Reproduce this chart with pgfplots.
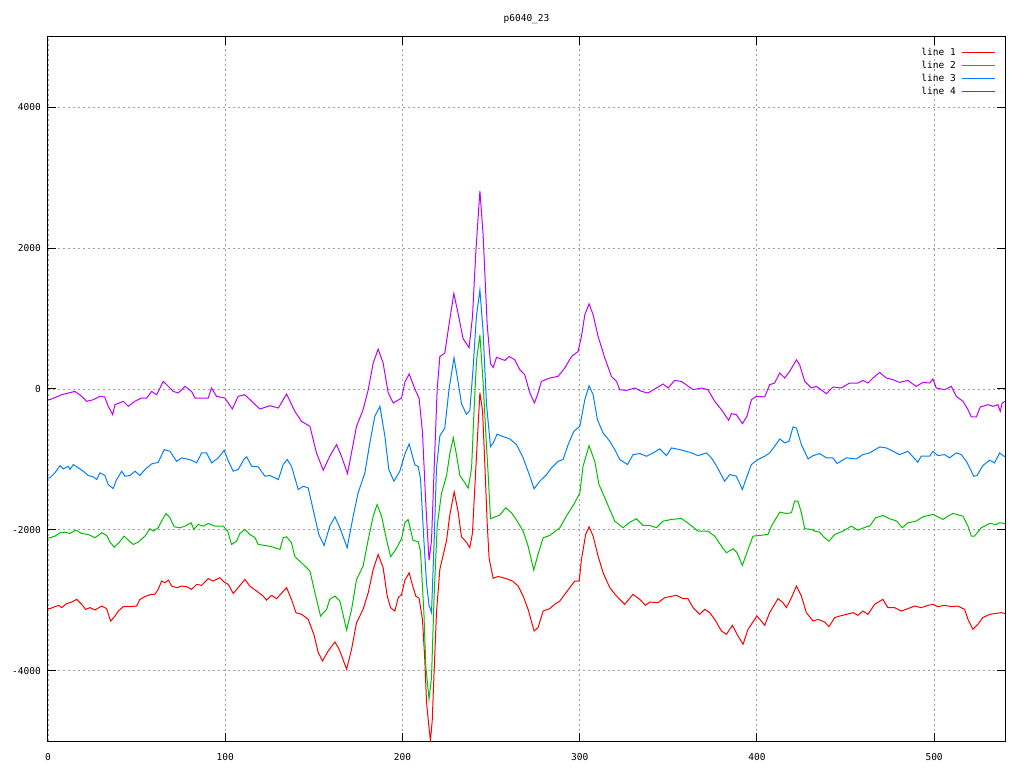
\documentclass[border=0pt]{standalone}
\usepackage{fontspec}
\setmainfont{DejaVu Sans Mono}
\usepackage{pgfplots}
\pgfplotsset{compat=1.18}
\definecolor{c1}{RGB}{255,0,0}
\definecolor{c2}{RGB}{0,192,0}
\definecolor{c3}{RGB}{0,128,255}
\definecolor{c4}{RGB}{192,0,255}
\definecolor{gridc}{RGB}{160,160,160}
\begin{document}
\fontsize{9.5pt}{11pt}\selectfont
\begin{tikzpicture}
\useasboundingbox (-48pt,-27pt) rectangle (976pt,741pt);
\begin{axis}[
 at={(0pt,0pt)}, anchor=south west,
 scale only axis, width=957pt, height=704pt,
 xmin=0, xmax=540, ymin=-5000, ymax=5000,
 xtick={0,100,...,500}, ytick={-4000,-2000,0,2000,4000},
 grid=major,
 major grid style={gridc, dash pattern=on 2pt off 3pt, line width=0.8pt},
 tick align=inside, tick pos=both, major tick length=8pt,
 axis line style={line width=1pt},
 every tick/.style={black, line width=1pt},
 /pgf/number format/assume math mode=true,
 /pgf/number format/1000 sep={},
 ticklabel style={font=\fontsize{9.5pt}{11pt}\selectfont},
 xticklabel style={anchor=north, inner sep=0pt, yshift=-12pt},
 yticklabel style={anchor=east, inner sep=0pt, xshift=-7pt},
 title={p6040\_23},
 title style={at={(0.5,1)}, anchor=center, yshift=12pt, inner sep=0pt, font=\fontsize{9.5pt}{11pt}\selectfont},
 legend plot pos=right,
 legend style={at={(1,1)}, anchor=north east, xshift=-6pt, yshift=-7pt, draw=none, fill=none,
   cells={anchor=east}, row sep=0.2pt, font=\fontsize{9.5pt}{11pt}\selectfont},
 legend image code/.code={\path (0pt,0pt); \draw[#1,line width=1pt] (4pt,0pt) -- (37pt,0pt);},
 every axis plot/.append style={line width=1pt, mark=none},
]
\addplot[c1] coordinates {
(0,-3120)(1.1,-3120)(3.9,-3091)(6.2,-3073)(7.7,-3106)(10.5,-3049)(13.4,-3026)(16.2,-2988)(19,-3059)(21.3,-3130)(23.7,-3106)(26.5,-3139)(30.3,-3083)(33.1,-3120)(34.4,-3225)(35.4,-3296)(37.8,-3225)(39.7,-3154)(42.5,-3091)(46.2,-3091)(50,-3083)(51.9,-2988)(54.7,-2949)(58.1,-2917)(60.3,-2917)(62.2,-2846)(64.1,-2728)(66,-2751)(67.9,-2714)(69.8,-2799)(72.6,-2822)(75.4,-2799)(78.2,-2808)(81,-2846)(83.9,-2775)(86.7,-2789)(90.4,-2694)(93.2,-2728)(97,-2680)(99.4,-2742)(101.7,-2775)(104.5,-2903)(107.3,-2822)
(111.1,-2704)(113.9,-2799)(117.7,-2870)(121.4,-2941)(123.3,-2998)(126.2,-2931)(129,-2978)(134.6,-2822)(137.4,-2988)(139.9,-3177)(143.1,-3201)(146.8,-3272)(150,-3484)(152.5,-3744)(154.9,-3863)(158.1,-3721)(161.9,-3593)(164.3,-3697)(168.5,-3980)(171.3,-3697)(174.1,-3318)(177.8,-3130)(180.7,-2893)(183.5,-2562)(186.3,-2350)(189.1,-2538)(191.4,-2941)(193.3,-3106)(195.7,-3154)(197.6,-2964)
(199.5,-2920)(201.4,-2714)(203.8,-2612)(206,-2818)(207.6,-2945)(209.4,-2971)(211.3,-3277)(212.6,-3840)(213.6,-4456)(215,-4813)(215.8,-4993)(216.8,-4711)(217.9,-3995)(219.2,-3175)(221.1,-2561)(223,-2357)(224.9,-2151)(226.7,-1792)(229.2,-1461)(231.4,-1741)(233.3,-2100)(236.1,-2177)(238,-2253)(239.5,-2049)(241.4,-1127)(243.7,-52)(245.2,-308)(246.5,-1076)(247.8,-1896)(248.9,-2408)(251.2,-2689)(254,-2663)
(258.7,-2694)(262.1,-2728)(265.3,-2799)(268.1,-2941)(270.9,-3130)(274.3,-3437)(276.5,-3389)(279.4,-3154)(283.1,-3120)(285.9,-3059)(288.8,-3012)(291.6,-2917)(294.4,-2822)(297.2,-2728)(299.7,-2728)(301,-2421)(303.4,-2066)(305.3,-1957)(307.6,-2090)(310.4,-2374)(313.2,-2609)(317,-2822)(320.8,-2941)(325.4,-3059)(330.1,-2917)(333.9,-2988)(337.1,-3073)
(339.5,-3026)(344.2,-3035)(348,-2964)(354.6,-2931)(358.3,-2978)(361.1,-2978)(364,-3106)(367.7,-3201)(370.6,-3130)(373.4,-3177)(376.2,-3272)(380,-3437)(382.8,-3484)(386.2,-3357)(388.8,-3484)(392.2,-3626)(395,-3413)(396.9,-3342)(400,-3225)(402.5,-3296)(404.4,-3357)(407.2,-3177)(411.9,-2978)(414.7,-3035)(416.6,-3106)(419.5,-2964)(422.3,-2799)(425.1,-2941)(427.9,-3177)(431.7,-3296)(434.5,-3272)
(438.2,-3310)(440.7,-3375)(443.9,-3247)(446.7,-3225)(450.5,-3201)(454.3,-3177)(457,-3215)(459.8,-3154)(462.7,-3201)(466.4,-3059)(471.1,-2988)(473.9,-3106)(477.7,-3106)(481.5,-3154)(485.2,-3120)(489,-3083)(492.7,-3106)(496.5,-3073)(499.3,-3059)(502.1,-3091)(505.9,-3073)(509.7,-3091)(513.4,-3083)(517.2,-3130)(519.1,-3272)(521.9,-3413)(524.7,-3342)(527.5,-3247)(531.3,-3201)(535.1,-3187)(537.9,-3177)(540,-3187)
};
\addlegendentry{line 1}
\addplot[c2] coordinates {
(0,-2113)(1.1,-2113)(3.9,-2090)(6.8,-2042)(9.6,-2033)(12.4,-2052)(15.6,-2005)(19,-2052)(22.7,-2066)(26.5,-2113)(30.3,-2042)(33.1,-2080)(35,-2175)(37.4,-2246)(40,-2184)(42.9,-2090)(45.3,-2147)(48.1,-2208)(50.9,-2175)(54.7,-2090)(57.5,-1985)(59.4,-2019)(62.2,-1971)(64.1,-1877)(66.6,-1768)(68.8,-1829)(71.2,-1957)(74.5,-1971)(77.3,-1948)(80.7,-1900)(82.3,-1995)(84.8,-1924)(87.6,-1948)(90.4,-1910)(94.2,-1948)(98.9,-1948)(101.4,-2019)(103.6,-2208)(106.4,-2161)(108.3,-2052)
(111.1,-1995)(113.9,-2066)(116.8,-2113)(118.6,-2208)(122.4,-2222)(126.2,-2241)(130.9,-2279)(132.7,-2113)(134.6,-2099)(137.4,-2184)(139.3,-2382)(143,-2467)(147.8,-2586)(150.6,-2893)(153.8,-3225)(157.2,-3130)(159,-2988)(161.9,-2941)(164.7,-3012)(168.5,-3423)(171.3,-3130)(174.1,-2704)(177.8,-2516)(180.7,-2137)(183.5,-1806)(185.7,-1641)(188.2,-1806)(191,-2137)(193.3,-2382)(196.3,-2279)
(199.5,-2126)(201.4,-1896)(203.2,-1855)(206,-2151)(208.9,-2167)(210.2,-2304)(212.1,-3175)(213.2,-3944)(215,-4404)(216.4,-4097)(217.9,-2920)(219.6,-1947)(222,-1486)(224.9,-1229)(226.7,-923)(228.7,-692)(230.4,-923)(232.4,-1229)(235.2,-1332)(237.1,-1409)(239,-1127)(240.3,-360)(241.8,408)(243.7,767)(245.5,100)(247,-615)(248.4,-1229)(249.7,-1843)(252.1,-1818)(254.9,-1792)
(258.3,-1687)(261.5,-1758)(264.4,-1863)(268.1,-2019)(270.9,-2232)(274.1,-2572)(276.5,-2350)(279.4,-2113)(283.1,-2080)(288.8,-1971)(292.5,-1806)(297.2,-1617)(300.1,-1475)(301.9,-1098)(305.3,-804)(308.5,-1027)(310.9,-1357)(314.2,-1546)(317,-1712)(319.8,-1877)(324.5,-1971)(328.3,-1892)(332,-1843)(335.8,-1938)
(339.5,-1938)(343.3,-1971)(347,-1877)(351.8,-1853)(357.4,-1839)(362.1,-1924)(366.8,-2019)(372.4,-2019)(376.2,-2090)(380,-2232)(382.8,-2326)(386.6,-2269)(388.8,-2326)(391.8,-2506)(395,-2279)(397.8,-2090)(401.6,-2080)(406.3,-2066)(408.2,-1948)(412.9,-1749)(416.6,-1768)(419.5,-1758)(421.3,-1593)(423.2,-1593)(425.1,-1758)(427,-1985)(430.7,-1995)(432.6,-2019)
(435.4,-2033)(438.2,-2113)(440.7,-2161)(443.9,-2066)(448.6,-2019)(453.3,-1948)(457,-2005)(461.8,-1957)(463.6,-1948)(467,-1829)(471.1,-1797)(474.9,-1843)(479,-1877)(482,-1971)(485.2,-1900)(489.9,-1877)(493.7,-1815)(499.3,-1782)(502.1,-1815)(505,-1853)(507.8,-1806)(510.6,-1768)(516.3,-1806)(519.1,-1948)(521,-2090)(522.8,-2090)(526.6,-1971)(531.3,-1910)(535.1,-1924)(537,-1900)(540,-1910)
};
\addlegendentry{line 2}
\addplot[c3] coordinates {
(0,-1262)(1.1,-1262)(3.9,-1191)(6.8,-1088)(8.6,-1134)(11.5,-1098)(12.4,-1144)(14.3,-1073)(17.1,-1120)(19.9,-1168)(22.7,-1229)(25.6,-1248)(27.5,-1286)(29.3,-1191)(32.1,-1229)(34,-1357)(36.8,-1414)(38.7,-1286)(41.6,-1168)(43.4,-1239)(46.2,-1229)(49.1,-1168)(51.9,-1229)(54.7,-1144)(58.5,-1064)(62.2,-1041)(65.6,-861)(68.8,-885)(72.6,-1027)(75.4,-978)(78.2,-993)(81,-1012)(83.9,-1049)(86.7,-908)(89.5,-908)(92.3,-1049)(96.1,-978)(99.4,-871)(101.4,-1002)(104.5,-1168)(107.3,-1144)(110.7,-993)
(112.1,-965)(114.9,-1097)(118.6,-1106)(122.4,-1239)(125.2,-1229)(130,-1286)(132.7,-1073)(135,-1002)(137.4,-1097)(141.2,-1428)(144,-1381)(146.8,-1404)(149.6,-1712)(152.8,-2066)(155.8,-2222)(159,-1948)(161.9,-1815)(164.7,-1971)(168.8,-2255)(172.2,-1806)(175,-1475)(178.8,-1191)(181.6,-766)(184.4,-389)(187.3,-246)(190.1,-672)(192.3,-1144)(195.2,-1310)(198.5,-1168)
(201.4,-923)(203.8,-780)(207,-1076)(208.9,-1102)(210.2,-1280)(212.1,-2151)(213.6,-2765)(215,-3073)(216.4,-3175)(217.9,-2151)(219.2,-1127)(221.1,-666)(223.9,-554)(226.3,0)(229.1,444)(231.4,100)(233.3,-207)(236.1,-360)(238,-308)(239.9,306)(241.7,1022)(243.7,1406)(245.5,818)(247.4,-207)(249.7,-820)(251.2,-769)(253.4,-641)(256.8,-676)
(260.6,-709)(264.4,-790)(268.1,-978)(271.9,-1239)(274.3,-1418)(277.5,-1310)(281.3,-1215)(284.1,-1120)(287.8,-1027)(290.6,-1002)(293.5,-790)(296.7,-601)(300.1,-530)(302.9,-152)(305.3,47)(307.6,-81)(310,-435)(313.2,-624)(317,-743)(319.8,-861)(322.6,-1002)(327,-1073)(330.1,-932)(333.9,-917)(337.7,-955)
(341.4,-908)(345.2,-851)(349,-946)(351.8,-837)(356.5,-861)(362.1,-899)(366.8,-946)(371.5,-908)(374.3,-978)(377.1,-1088)(381.8,-1310)(384.7,-1215)(388.4,-1239)(391.8,-1428)(394.1,-1262)(396.9,-1073)(400.6,-1002)(404.4,-955)(407.2,-908)(410,-814)(412.9,-709)(415.7,-766)(418.1,-743)(420.4,-539)(422.3,-554)(425.1,-790)(428.9,-993)(431.7,-946)
(435.4,-917)(439.2,-978)(442.9,-978)(445.2,-1059)(450.5,-978)(456.1,-993)(459.8,-932)(463.6,-908)(469.3,-823)(473,-837)(476.8,-885)(480.5,-932)(485.2,-885)(490.8,-1041)(492.7,-955)(497.5,-955)(499.3,-885)(502.1,-946)(505.9,-932)(508.7,-978)(512.5,-908)(515.3,-932)(518.2,-1027)(521,-1168)(522.3,-1239)(524.2,-1229)(527.5,-1088)(531.3,-1012)(534.1,-1049)(537,-908)(540,-965)
};
\addlegendentry{line 3}
\addplot[c4] coordinates {
(0,-152)(1,-152)(7.7,-81)(15.2,-34)(19,-104)(21.8,-175)(25.6,-152)(29.3,-104)(32,-113)(34,-246)(36.5,-364)(37.8,-223)(42.5,-175)(45.3,-246)(49,-175)(52.8,-128)(55.7,-128)(58.5,-34)(61.3,-81)(65,108)(67,61)(70.7,-34)(73.5,-57)(77.3,37)(81,-34)(83,-128)(87.6,-128)(90.4,-128)(92.3,14)(95.1,-104)(99.8,-128)(104,-284)(107.3,-104)(111,-81)
(114,-152)(119.6,-284)(125.2,-237)(130,-270)(134.6,-71)(139.3,-317)(143,-459)(147.8,-530)(151.5,-908)(155.3,-1154)(159,-955)(162.8,-790)(165.6,-955)(169,-1201)(174.1,-530)(177.8,-294)(180.7,-10)(183.5,369)(186.3,567)(189.1,369)(192,-57)(194.8,-199)(199.5,-128)
(201.4,100)(203.8,214)(207,0)(209.4,-129)(211.3,-615)(213.2,-1640)(215,-2433)(216.4,-2151)(217.9,-1127)(219.6,0)(221.1,460)(223.9,510)(226.3,920)(229,1356)(231.4,1073)(234.2,716)(237.6,587)(239.5,1022)(241.4,1944)(243.7,2815)(245.5,2200)(247.8,920)(249.7,357)(251.2,306)(253.1,450)
(257.8,406)(260.2,462)(263.4,415)(266.2,274)(269,203)(271.9,-57)(274.5,-199)(276.5,-57)(278.4,108)(283.1,156)(287.8,179)(291.6,298)(295.4,462)(299.1,533)(301,746)(302.9,1054)(305.3,1210)(307.6,1054)(310.4,746)(314.2,440)(317.9,179)(320.8,108)(322.6,-10)(326.4,-20)(331.1,14)(334.9,-34)(338.6,-57)
(343.3,14)(347,71)(349.9,14)(353.6,122)(357.4,108)(364,-10)(368.7,14)(372.4,-10)(376.2,-175)(380,-294)(384.1,-445)(385.6,-350)(388.4,-364)(391.8,-492)(394.4,-388)(396.9,-152)(399.7,-104)(404.4,-113)(407.2,61)(410,85)(412.9,227)(415.7,156)(418.5,250)(422.3,415)(424.1,345)(427,108)(430.7,14)(433.6,37)
(439.2,-67)(442.9,28)(447.6,14)(452.3,85)(457,85)(459.8,122)(462.7,85)(465.5,156)(469.3,236)(473,156)(476.8,132)(480.5,94)(485.2,122)(489.9,37)(493.7,94)(497.5,85)(499.3,142)(501.2,14)(505.9,-10)(509.7,37)(512.5,-104)(516.3,-175)(519.1,-294)(521,-397)(523.8,-397)(526.1,-255)(530.4,-223)(533.2,-246)(536,-223)(537.3,-317)(538.4,-199)(540,-175)
};
\addlegendentry{line 4}
\end{axis}
\end{tikzpicture}
\end{document}
